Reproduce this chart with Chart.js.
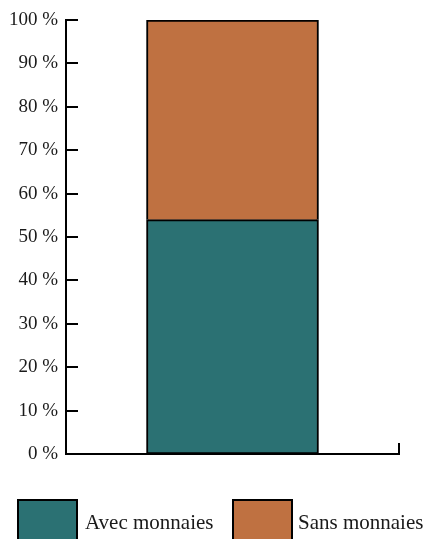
<!DOCTYPE html>
<html>
<head>
<meta charset="utf-8">
<script src="https://cdn.jsdelivr.net/npm/chart.js@4/dist/chart.umd.min.js"></script>
<style>
html,body{margin:0;padding:0;background:#fff;}
#wrap{width:430px;height:539px;position:relative;}
</style>
</head>
<body>
<div id="wrap"><canvas id="c" width="430" height="539"></canvas></div>
<script>
const categories = [''];
const seriesLabels = ['Avec monnaies', 'Sans monnaies'];
const avecValues = [54];
const sansValues = [46];
const tickValues = [0, 10, 20, 30, 40, 50, 60, 70, 80, 90, 100];
const seriesColors = ['#2B7173', '#BF7141'];

const FONT = '"Liberation Serif", "Times New Roman", serif';

const axisPlugin = {
  id: 'axisMarks',
  afterDraw(chart) {
    const ctx = chart.ctx;
    const ys = chart.scales.y;
    const area = chart.chartArea;
    ctx.save();
    ctx.strokeStyle = '#000';
    ctx.lineWidth = 2;
    ys.ticks.forEach(t => {
      const y = Math.round(ys.getPixelForValue(t.value));
      ctx.beginPath();
      ctx.moveTo(area.left, y);
      ctx.lineTo(area.left + 12, y);
      ctx.stroke();
    });
    ctx.beginPath();
    ctx.moveTo(area.right, area.bottom);
    ctx.lineTo(area.right, area.bottom - 11);
    ctx.stroke();

    const boxes = [{x: 18, tx: 85}, {x: 233, tx: 298}];
    ctx.font = '21px ' + FONT;
    ctx.textBaseline = 'middle';
    ctx.textAlign = 'left';
    chart.data.datasets.forEach((ds, i) => {
      const b = boxes[i];
      ctx.fillStyle = ds.backgroundColor;
      ctx.fillRect(b.x, 500, 59, 42);
      ctx.strokeStyle = '#000';
      ctx.lineWidth = 2;
      ctx.strokeRect(b.x, 500, 59, 42);
      ctx.fillStyle = '#1a1a1a';
      ctx.fillText(ds.label, b.tx, 523);
    });
    ctx.restore();
  }
};

new Chart(document.getElementById('c'), {
  type: 'bar',
  data: {
    labels: categories,
    datasets: [
      {label: seriesLabels[0], data: avecValues, backgroundColor: seriesColors[0], borderColor: '#000', borderWidth: 2, borderSkipped: false},
      {label: seriesLabels[1], data: sansValues, backgroundColor: seriesColors[1], borderColor: '#000', borderWidth: 2, borderSkipped: 'bottom'}
    ]
  },
  options: {
    responsive: false,
    animation: false,
    devicePixelRatio: 1,
    layout: {padding: {top: 20, right: 31, bottom: 85, left: 0}},
    plugins: {legend: {display: false}, tooltip: {enabled: false}},
    datasets: {bar: {categoryPercentage: 1, barThickness: 172}},
    scales: {
      x: {
        stacked: true,
        grid: {display: false, drawTicks: false},
        border: {display: true, color: '#000', width: 2},
        ticks: {display: false},
        afterFit(s) { s.height = 0; }
      },
      y: {
        stacked: true,
        min: 0, max: 100,
        afterBuildTicks(s) { s.ticks = tickValues.map(v => ({value: v})); },
        grid: {display: false, drawTicks: false},
        border: {display: true, color: '#000', width: 2},
        ticks: {
          padding: 8,
          color: '#1a1a1a',
          font: {family: FONT, size: 19},
          callback: v => v + ' %'
        },
        afterFit(s) { s.width = 66; }
      }
    }
  },
  plugins: [axisPlugin]
});
</script>
</body>
</html>
